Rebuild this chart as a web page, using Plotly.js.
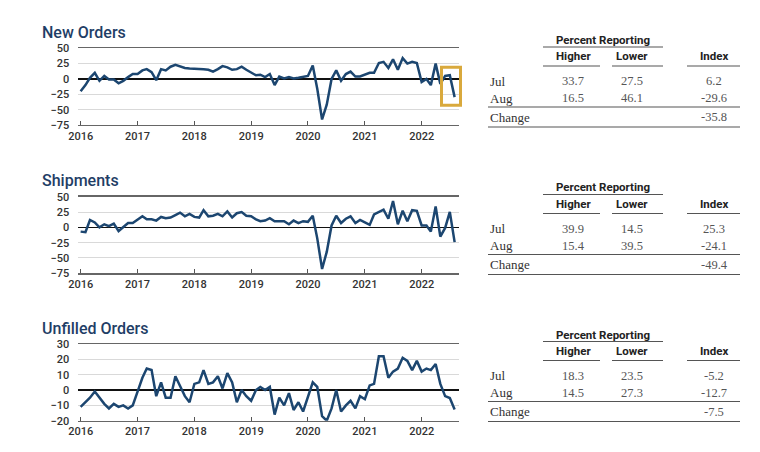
<!DOCTYPE html>
<html><head><meta charset="utf-8">
<script src="https://cdn.plot.ly/plotly-3.0.1.min.js"></script>
<style>html,body{margin:0;padding:0;background:#fff;} #chart{width:760px;height:452px;}</style>
</head><body><div id="chart"></div>
<script>
// ---- data (Jan 2016 .. Aug 2022, monthly) ----
const startYear = 2016;
const nMonths = 80;
const months = [];
for (let i = 0; i < nMonths; i++) {
  const y = startYear + Math.floor(i / 12), m = i % 12 + 1;
  months.push(y + '-' + String(m).padStart(2, '0') + '-01');
}
const newOrders = [
  -20, -10, 2, 10, -3, 5, -1, -1, -7, -3, 3, 8,
  8, 14, 16, 11, -2, 16, 14, 20, 23, 20, 18, 17,
  17, 16, 16, 15, 12, 16, 21, 19, 15, 16, 20, 15,
  10, 6, 7, 3, 8, -10, 4, 1, 3, 1, 2, 3,
  5, 22, -16, -66, -42, 0, 14, -3, 8, 12, 4, 4,
  7, 10, 10, 26, 28, 18, 32, 15, 34, 25, 28, 26,
  -5, 0, -10, 25, -8, 5, 6.2, -29.6
];
const shipments = [
  -7, -8, 12, 8, 0, 5, 2, 6, -6, 0, 7, 7,
  12, 18, 13, 13, 11, 17, 15, 16, 20, 24, 18, 22,
  17, 16, 28, 18, 19, 22, 18, 26, 16, 23, 25, 19,
  18, 13, 10, 11, 15, 10, 10, 10, 5, 11, 7, 10,
  9, 19, -18, -68, -40, 3, 19, 7, 14, 18, 7, 12,
  8, 4, 21, 25, 29, 14, 43, 5, 27, 10, 28, 27,
  3, 3, -7, 34, -15, -1, 25.3, -24.1
];
const unfilledOrders = [
  -11, -8, -5, -1, -5, -9, -12, -9, -11, -10, -12, -10,
  -1, 8, 14, 13, -4, 5, -5, -5, 9, 3, -4, -8,
  4, 5, 13, 4, 5, 9, 1, 11, 5, -8, 0, -4,
  -7, 0, 2, 0, 2, -16, -5, -10, -2, -13, -8, -14,
  -4, 5, 2, -17, -20, -12, 0, -14, -10, -7, -12, -4,
  -6, 3, 4, 22, 22, 8, 12, 14, 21, 19, 13, 19,
  12, 14, 13, 17, 4, -4, -5.2, -12.7
];
const panelTitles = ['New Orders', 'Shipments', 'Unfilled Orders'];
const rowLabels = ['Jul', 'Aug', 'Change'];
const colHeaders = ['Higher', 'Lower', 'Index'];
const groupHeader = 'Percent Reporting';
const noHigher = [33.7, 16.5], noLower = [27.5, 46.1], noIndex = [6.2, -29.6], noChange = -35.8;
const shHigher = [39.9, 15.4], shLower = [14.5, 39.5], shIndex = [25.3, -24.1], shChange = -49.4;
const uoHigher = [18.3, 14.5], uoLower = [23.5, 27.3], uoIndex = [-5.2, -12.7], uoChange = -7.5;

// ---- layout helpers ----
const W = 760, H = 452;
const px = x => x / W, py = y => 1 - y / H;
const LINE = '#1c4670';
const sansC = 'Roboto, Noto Sans, sans-serif';
const serif = 'Liberation Serif, Times New Roman, serif';

const panels = [
  {data: newOrders, top: 48.3, bot: 125, range: [-75, 50], dtick: 25, tbl: [noHigher, noLower, noIndex, noChange], dy: 0},
  {data: shipments, top: 196.7, bot: 273.3, range: [-75, 50], dtick: 25, tbl: [shHigher, shLower, shIndex, shChange], dy: 147.5},
  {data: unfilledOrders, top: 344, bot: 420.7, range: [-20, 30], dtick: 10, tbl: [uoHigher, uoLower, uoIndex, uoChange], dy: 294.5}
];

const traces = [], annotations = [], shapes = [];
const layout = {
  width: W, height: H, margin: {l: 0, r: 0, t: 0, b: 0},
  paper_bgcolor: '#fff', plot_bgcolor: '#fff', showlegend: false,
  font: {family: sansC, color: '#333'}
};

panels.forEach((p, i) => {
  const s = i === 0 ? '' : String(i + 1);
  traces.push({
    x: months, y: p.data, type: 'scatter', mode: 'lines',
    xaxis: 'x' + s, yaxis: 'y' + s,
    line: {color: LINE, width: 2.5}, hoverinfo: 'skip'
  });
  layout['xaxis' + s] = {
    domain: [px(78.3), px(459.3)], anchor: 'y' + s, type: 'date',
    range: ['2015-12-17', '2022-08-31'],
    tick0: '2016-01-01', dtick: 'M12', tickformat: '%Y',
    ticks: 'inside', ticklen: 4, tickwidth: 1, tickcolor: '#555',
    showline: true, mirror: true, linecolor: '#666', linewidth: 1.3,
    showgrid: false, zeroline: false, fixedrange: true,
    tickfont: {family: sansC, size: 11, color: '#333', weight: 500}
  };
  layout['yaxis' + s] = {
    domain: [py(p.bot), py(p.top)], anchor: 'x' + s,
    range: p.range, dtick: p.dtick, tick0: 0,
    showgrid: true, gridcolor: '#d9d9d9', gridwidth: 1,
    zeroline: true, zerolinecolor: '#111', zerolinewidth: 1.5,
    showline: false, ticks: '', ticklabelstandoff: 8, fixedrange: true,
    tickfont: {family: sansC, size: 11, color: '#333', weight: 500}
  };
  // panel title
  annotations.push({
    xref: 'paper', yref: 'paper', x: px(40), y: py(p.top - 16), xanchor: 'left', yanchor: 'middle',
    text: panelTitles[i], showarrow: false,
    font: {family: sansC, size: 16, color: '#1f3e66', weight: 500}
  });
  // table
  const dy = p.dy;
  const ann = (x, y, text, font, xa) => annotations.push({
    xref: 'paper', yref: 'paper', x: px(x), y: py(y + dy), xanchor: xa || 'center', yanchor: 'middle',
    text: text, showarrow: false, font: font
  });
  const hline = (x0, x1, y, w) => shapes.push({
    type: 'line', xref: 'paper', yref: 'paper', x0: px(x0), x1: px(x1), y0: py(y + dy), y1: py(y + dy),
    line: {color: '#555', width: w || 1.2}
  });
  const hdrFont = {family: sansC, size: 11.5, color: '#222', weight: 'bold'};
  const rowFont = {family: serif, size: 13, color: '#333'};
  const numFont = {family: serif, size: 12.5, color: '#555'};
  ann(603, 40, groupHeader, hdrFont);
  hline(543, 663, 47);
  const colX = [573, 632, 714];
  colHeaders.forEach((h, k) => ann(colX[k], 56, h, hdrFont));
  hline(543, 600, 66); hline(612, 663, 66); hline(687, 740, 66);
  const [hi, lo, idx, chg] = p.tbl;
  [81, 98].forEach((yy, r) => {
    ann(488, yy, rowLabels[r], rowFont, 'left');
    ann(colX[0], yy, hi[r].toFixed(1), numFont);
    ann(colX[1], yy, lo[r].toFixed(1), numFont);
    ann(colX[2], yy, idx[r].toFixed(1), numFont);
  });
  hline(488, 740, 107);
  ann(488, 117, rowLabels[2], rowFont, 'left');
  ann(colX[2], 117, chg.toFixed(1), numFont);
  hline(488, 740, 127);
});

// highlight box around latest readings in New Orders
shapes.push({
  type: 'rect', xref: 'paper', yref: 'y', x0: px(441.5), x1: px(460.5), y0: -43, y1: 19,
  line: {color: '#d9a93c', width: 3}, fillcolor: 'rgba(0,0,0,0)'
});

layout.annotations = annotations;
layout.shapes = shapes;
Plotly.newPlot('chart', traces, layout, {staticPlot: true, displayModeBar: false});
</script>
</body></html>
